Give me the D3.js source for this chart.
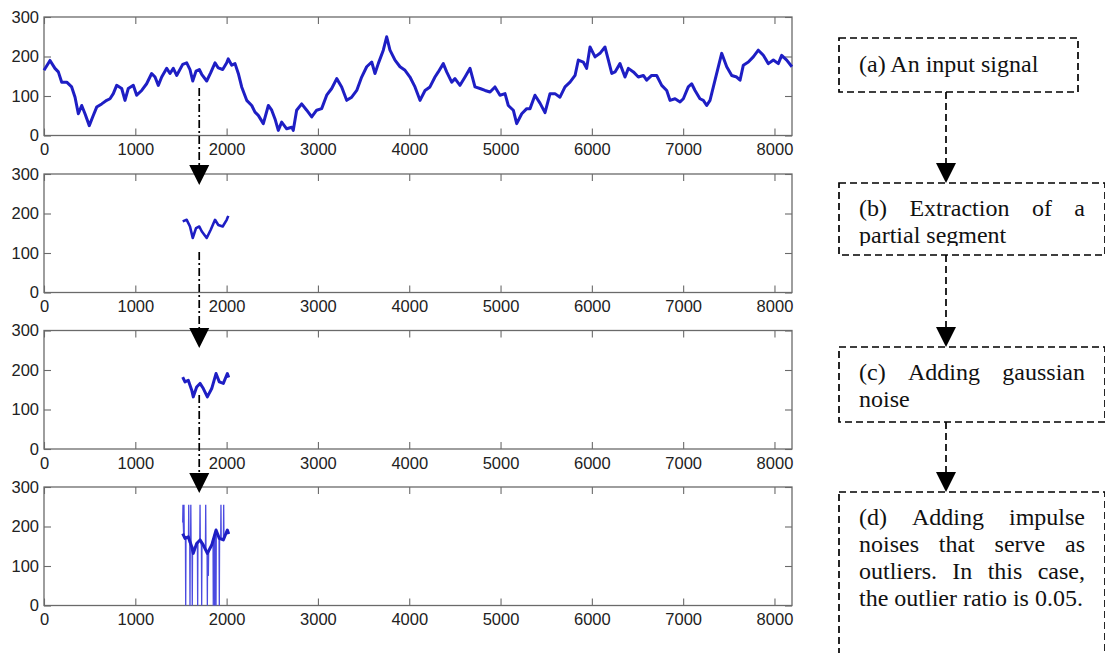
<!DOCTYPE html>
<html>
<head>
<meta charset="utf-8">
<script src="https://cdn.jsdelivr.net/npm/d3@7"></script>
<style>
  html, body { margin: 0; padding: 0; background: #fff; }
  svg { display: block; }
</style>
</head>
<body>
<svg id="fig" width="1105" height="653"></svg>
<script>
// ---- data -------------------------------------------------------------
const xTicks = [0, 1000, 2000, 3000, 4000, 5000, 6000, 7000, 8000];
const yTicks = [0, 100, 200, 300];
const signalLength = 8192;

// (a) input signal: sample index / amplitude
const signalSamples = [
  0, 66, 120, 157, 194, 249, 303, 340, 376, 413, 449, 496, 533, 577, 632, 687, 723, 759, 796, 851,
  887, 923, 978, 1015, 1070, 1124, 1179, 1216, 1252, 1289, 1344, 1380, 1416, 1453,
  1519, 1563, 1599, 1629, 1665, 1701, 1727, 1782, 1826, 1873, 1909, 1957, 2001, 2018,
  2056, 2092, 2128, 2165, 2220, 2275, 2311, 2347, 2402, 2457, 2494, 2530, 2566, 2603, 2658, 2713,
  2730, 2767, 2822, 2877, 2932, 2986, 3041, 3096, 3151, 3206, 3260, 3315, 3370, 3425, 3479, 3534,
  3589, 3625, 3661, 3716, 3753, 3789, 3844, 3899, 3954, 4008, 4063, 4118, 4173, 4227, 4282, 4318,
  4373, 4410, 4465, 4501, 4556, 4611, 4666, 4720, 4775, 4830, 4885, 4939, 4994, 5049, 5085, 5140,
  5177, 5232, 5287, 5323, 5377, 5432, 5487, 5542, 5596, 5651, 5706, 5761, 5816, 5852, 5906, 5943,
  5980, 6035, 6089, 6144, 6181, 6218, 6254, 6308, 6363, 6400, 6455, 6509, 6564, 6600, 6655, 6710,
  6765, 6820, 6856, 6911, 6966, 7002, 7056, 7093, 7130, 7184, 7221, 7258, 7294, 7349, 7385, 7422,
  7477, 7532, 7586, 7623, 7659, 7714, 7768, 7823, 7878, 7933, 7988, 8042, 8079, 8134, 8191
];
const signalValues = [
  165, 190, 170, 161, 135, 135, 123, 97, 55, 76, 55, 25, 47, 72, 80, 89, 93, 106, 127, 119,
  89, 119, 127, 102, 114, 131, 157, 148, 127, 148, 170, 157, 170, 152,
  180, 184, 167, 138, 163, 167, 155, 138, 159, 184, 171, 167, 184, 194,
  178, 182, 157, 123, 89, 76, 59, 51, 30, 76, 64, 42, 13, 34, 17, 21,
  13, 64, 80, 64, 47, 64, 68, 102, 119, 144, 123, 89, 97, 114, 148, 174,
  186, 157, 182, 216, 250, 216, 191, 174, 165, 148, 123, 89, 114, 123, 148, 161,
  182, 161, 135, 144, 127, 148, 170, 123, 119, 114, 110, 123, 102, 106, 76, 64,
  30, 55, 68, 68, 102, 82, 58, 106, 106, 97, 123, 135, 152, 191, 186, 170,
  224, 199, 208, 224, 191, 157, 161, 182, 148, 170, 161, 148, 152, 140, 152, 152,
  127, 114, 89, 93, 85, 93, 123, 131, 114, 93, 89, 76, 89, 140, 174, 208,
  174, 152, 148, 140, 178, 186, 199, 216, 203, 182, 191, 182, 203, 191, 174
];

// (b) extracted part of the signal
const segmentRange = [1519, 2018];

// (c) the extracted part with gaussian noise
const noisySamples = [1519, 1544, 1580, 1618, 1635, 1672, 1709, 1745, 1789, 1837, 1884, 1920, 1964, 2008, 2023];
const noisyValues  = [182, 170, 174, 149, 132, 157, 166, 153, 132, 153, 191, 170, 166, 191, 181];

// (d) impulse outliers: position, outlier value, and the signal level beside it
const outlierSamples = [1522, 1533, 1552, 1585, 1599, 1608, 1624, 1683, 1709, 1727, 1771, 1789, 1800, 1854, 1869, 1884, 1920, 1938, 1968];
const outlierValues  = [255, 255, 0, 255, 0, 255, 0, 0, 255, 0, 255, 0, 75, 0, 0, 0, 0, 255, 255];
const outlierLevels  = [210, 175, 170, 165, 155, 155, 150, 160, 166, 150, 140, 132, 135, 170, 180, 185, 172, 168, 168];

// flow-chart captions, one entry per printed line
const captionA = ["(a) An input signal"];
const captionB = ["(b) Extraction of a", "partial segment"];
const captionC = ["(c) Adding gaussian", "noise"];
const captionD = ["(d) Adding impulse", "noises that serve as", "outliers.  In this case,", "the outlier ratio is 0.05."];

// ---- assembled series -------------------------------------------------
const signal = signalSamples.map((s, i) => [s, signalValues[i]]);
const segment = signal.filter(d => d[0] >= segmentRange[0] && d[0] <= segmentRange[1]);
const noisy = noisySamples.map((s, i) => [s, noisyValues[i]]);
// each outlier is a single-sample impulse standing on the local level
const impulses = outlierSamples.flatMap((s, i) => [
  [s - 3, outlierLevels[i]], [s, outlierValues[i]], [s + 3, outlierLevels[i]]
]);
const withOutliers = noisy
  .filter(d => !outlierSamples.some(s => Math.abs(s - d[0]) <= 4))
  .concat(impulses)
  .sort((a, b) => a[0] - b[0]);

// ---- layout -----------------------------------------------------------
const svg = d3.select("#fig");
const plotLeft = 44, plotRight = 792, plotHeight = 118.5;
const panelTops = [17, 174, 330.5, 487];
const axisColor = "#6a6a6a";
const lineColor = "#1e1ec4";

const x = d3.scaleLinear().domain([0, signalLength]).range([plotLeft, plotRight]);

function drawPanel(top) {
  const y = d3.scaleLinear().domain([0, 300]).range([top + plotHeight, top]);
  const g = svg.append("g");

  const styleAxis = sel => {
    sel.select(".domain").remove();
    sel.selectAll(".tick line").attr("stroke", axisColor).attr("stroke-width", 1.1);
    sel.selectAll(".tick text")
      .attr("fill", "#222")
      .style("font-family", "'Liberation Sans', Arial, sans-serif")
      .style("font-size", "16.5px");
  };

  g.append("g").attr("transform", `translate(0,${top + plotHeight})`)
    .call(d3.axisBottom(x).tickValues(xTicks).tickSize(-7).tickPadding(8).tickFormat(d3.format("d")))
    .call(styleAxis);
  g.append("g").attr("transform", `translate(0,${top})`)
    .call(d3.axisTop(x).tickValues(xTicks).tickSize(-7).tickFormat(""))
    .call(styleAxis);
  g.append("g").attr("transform", `translate(${plotLeft},0)`)
    .call(d3.axisLeft(y).tickValues(yTicks).tickSize(-7).tickPadding(5).tickFormat(d3.format("d")))
    .call(styleAxis);
  g.append("g").attr("transform", `translate(${plotRight},0)`)
    .call(d3.axisRight(y).tickValues(yTicks).tickSize(-7).tickFormat(""))
    .call(styleAxis);

  g.append("rect")
    .attr("x", plotLeft).attr("y", top)
    .attr("width", plotRight - plotLeft).attr("height", plotHeight)
    .attr("fill", "none").attr("stroke", axisColor).attr("stroke-width", 1.3);

  const line = d3.line().x(d => x(d[0])).y(d => y(d[1]));
  return { g, y, line };
}

const p1 = drawPanel(panelTops[0]);
p1.g.append("path").datum(signal).attr("d", p1.line)
  .attr("fill", "none").attr("stroke", lineColor).attr("stroke-width", 3).attr("stroke-linejoin", "round");

const p2 = drawPanel(panelTops[1]);
p2.g.append("path").datum(segment).attr("d", p2.line)
  .attr("fill", "none").attr("stroke", lineColor).attr("stroke-width", 2.6).attr("stroke-linejoin", "round");

const p3 = drawPanel(panelTops[2]);
p3.g.append("path").datum(noisy).attr("d", p3.line)
  .attr("fill", "none").attr("stroke", lineColor).attr("stroke-width", 3).attr("stroke-linejoin", "round");

const p4 = drawPanel(panelTops[3]);
p4.g.append("path").datum(withOutliers).attr("d", p4.line)
  .attr("fill", "none").attr("stroke", "#4a4ae0").attr("stroke-width", 1.3).attr("stroke-linejoin", "bevel");
p4.g.append("path").datum(noisy).attr("d", p4.line)
  .attr("fill", "none").attr("stroke", lineColor).attr("stroke-width", 3).attr("stroke-linejoin", "round");

// ---- dash-dot arrows between the panels -------------------------------
function triangle(cx, tipY, w, h) {
  return `M${cx - w / 2},${tipY - h}L${cx + w / 2},${tipY - h}L${cx},${tipY}Z`;
}
const arrowX = x(1700);
const leftArrows = [[88, 185], [252, 348], [395, 493]];
leftArrows.forEach(([y0, tip]) => {
  svg.append("line").attr("x1", arrowX).attr("x2", arrowX).attr("y1", y0).attr("y2", tip - 18)
    .attr("stroke", "#000").attr("stroke-width", 1.7).attr("stroke-dasharray", "8,3,2,3");
  svg.append("path").attr("d", triangle(arrowX, tip, 20, 20)).attr("fill", "#000");
});

// ---- flow chart on the right ------------------------------------------
const boxLeft = 839, textLeft = 859, textRight = 1085, flowX = 946, lineGap = 27;
const fc = svg.append("g")
  .style("font-family", "'Liberation Serif', 'Times New Roman', serif")
  .style("font-size", "24px")
  .attr("fill", "#111");

function dashedBox(x0, y0, x1, y1) {
  fc.append("rect").attr("x", x0).attr("y", y0).attr("width", x1 - x0).attr("height", y1 - y0)
    .attr("fill", "none").attr("stroke", "#000").attr("stroke-width", 1.7).attr("stroke-dasharray", "7,4");
}

function paragraph(lines, firstBaseline, clipBottom) {
  const g = fc.append("g");
  if (clipBottom !== undefined) {
    const id = "clip" + Math.round(firstBaseline);
    svg.append("clipPath").attr("id", id).append("rect")
      .attr("x", textLeft - 10).attr("y", firstBaseline - 40)
      .attr("width", textRight - textLeft + 20).attr("height", clipBottom - firstBaseline + 40);
    g.attr("clip-path", `url(#${id})`);
  }
  lines.forEach((text, i) => {
    const yb = firstBaseline + i * lineGap;
    const isLast = i === lines.length - 1;
    const words = text.split(/\s+/);
    if (isLast || words.length < 2) {
      g.append("text").attr("x", textLeft).attr("y", yb).text(text);
      return;
    }
    const nodes = words.map(w => g.append("text").attr("y", yb).text(w));
    const widths = nodes.map(n => n.node().getComputedTextLength());
    const gap = (textRight - textLeft - d3.sum(widths)) / (words.length - 1);
    let cx = textLeft;
    nodes.forEach((n, j) => { n.attr("x", cx); cx += widths[j] + gap; });
  });
}

function flowArrow(y0, tip) {
  fc.append("line").attr("x1", flowX).attr("x2", flowX).attr("y1", y0).attr("y2", tip - 19)
    .attr("stroke", "#000").attr("stroke-width", 1.7).attr("stroke-dasharray", "7,4");
  fc.append("path").attr("d", triangle(flowX, tip, 20, 20)).attr("fill", "#000");
}

dashedBox(boxLeft, 38, 1078, 92);
paragraph(captionA, 72);
flowArrow(92, 183);

dashedBox(boxLeft, 183, 1105, 255);
paragraph(captionB, 216, 246);
flowArrow(255, 347);

dashedBox(boxLeft, 347, 1105, 422);
paragraph(captionC, 380);
flowArrow(422, 492);

dashedBox(boxLeft, 492, 1105, 720);
paragraph(captionD, 525);
</script>
</body>
</html>
